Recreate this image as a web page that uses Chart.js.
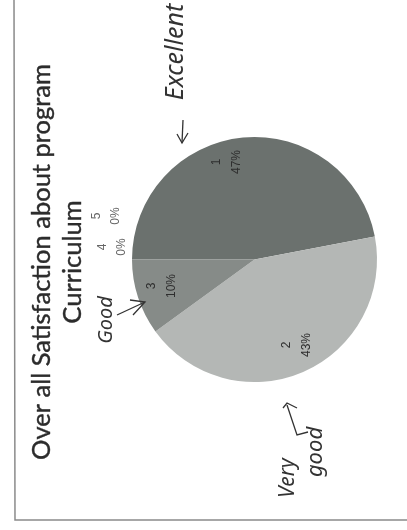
<!DOCTYPE html>
<html><head><meta charset="utf-8">
<style>html,body{margin:0;padding:0;background:#fff}#w{width:407px;height:530px}</style>
<script src="https://cdn.jsdelivr.net/npm/chart.js@4"></script></head>
<body><div id="w"><canvas id="c" width="407" height="530"></canvas></div>
<script>
const categories=['1','2','3','4','5'];
const values=[47,43,10,0,0];
const percentLabels=['47%','43%','10%','0%','0%'];
const sliceColors=['#6b716e','#b4b7b5','#868b88','#8f8f8f','#a0a0a0'];
const titleLines=['Over all Satisfaction about program','Curriculum'];
function vText(ctx,t,x,y,font,color,sw){ctx.save();ctx.translate(x,y);ctx.rotate(-Math.PI/2);ctx.font=font;ctx.fillStyle=color;ctx.textAlign='center';ctx.textBaseline='middle';ctx.fillText(t,0,0);if(sw){ctx.strokeStyle=color;ctx.lineWidth=sw;ctx.strokeText(t,0,0);}ctx.restore();}
function arrow(ctx,pts,head){ctx.save();ctx.strokeStyle='#333';ctx.lineWidth=1.3;ctx.beginPath();pts.forEach((p,i)=>i?ctx.lineTo(p[0],p[1]):ctx.moveTo(p[0],p[1]));ctx.stroke();ctx.beginPath();ctx.moveTo(head[0][0],head[0][1]);ctx.lineTo(head[1][0],head[1][1]);ctx.lineTo(head[2][0],head[2][1]);ctx.stroke();ctx.restore();}
const decor={id:'decor',
 beforeDraw(ch){const c=ch.ctx;c.save();c.fillStyle='#fff';c.fillRect(0,0,407,530);c.strokeStyle='#8a8a8a';c.lineWidth=1.5;c.beginPath();c.moveTo(14,0);c.lineTo(15,520);c.lineTo(407,520);c.stroke();c.restore();},
 afterDraw(ch){const c=ch.ctx;
  vText(c,titleLines[0],42,262,'25.5px Lato','#2c2c2c',0.4);
  vText(c,titleLines[1],73,262,'25.5px Lato','#2c2c2c',0.4);
  const pos=[[217,162,237],[287,345,307],[152,286,172],[103,247,122],[97,216,116]];
  const labelColors=['#2e2e2e','#2e2e2e','#2e2e2e','#666','#666'];
  categories.forEach((k,i)=>{const [x,y,x2]=pos[i];
    vText(c,k,x,y,'12px "Liberation Sans"',labelColors[i]);
    vText(c,percentLabels[i],x2,y,'12px "Liberation Sans"',labelColors[i]);});
  const hand='"Noto Sans"';
  vText(c,'Excellent',176,52,'italic 25px '+hand,'#333');
  vText(c,'Very',288,478,'italic 21px '+hand,'#333');
  vText(c,'good',316,452,'italic 22px '+hand,'#333');
  vText(c,'Good',106,320,'italic 20px '+hand,'#333');
  arrow(c,[[182,143],[183,120]],[[177,134],[182,143],[188,133]]);
  arrow(c,[[117,315],[145,302]],[[130,300],[145,302],[133,315]]);
  arrow(c,[[308,432],[297,435],[287,405]],[[283,408],[287,403],[297,408]]);
 }};
new Chart(document.getElementById('c'),{type:'pie',
 data:{labels:categories,datasets:[{data:values,backgroundColor:sliceColors,borderWidth:0}]},
 options:{responsive:false,animation:false,rotation:270,
  layout:{padding:{left:132,right:30,top:137,bottom:148}},
  plugins:{legend:{display:false},tooltip:{enabled:false},title:{display:false}}},
 plugins:[decor]});
</script></body></html>
